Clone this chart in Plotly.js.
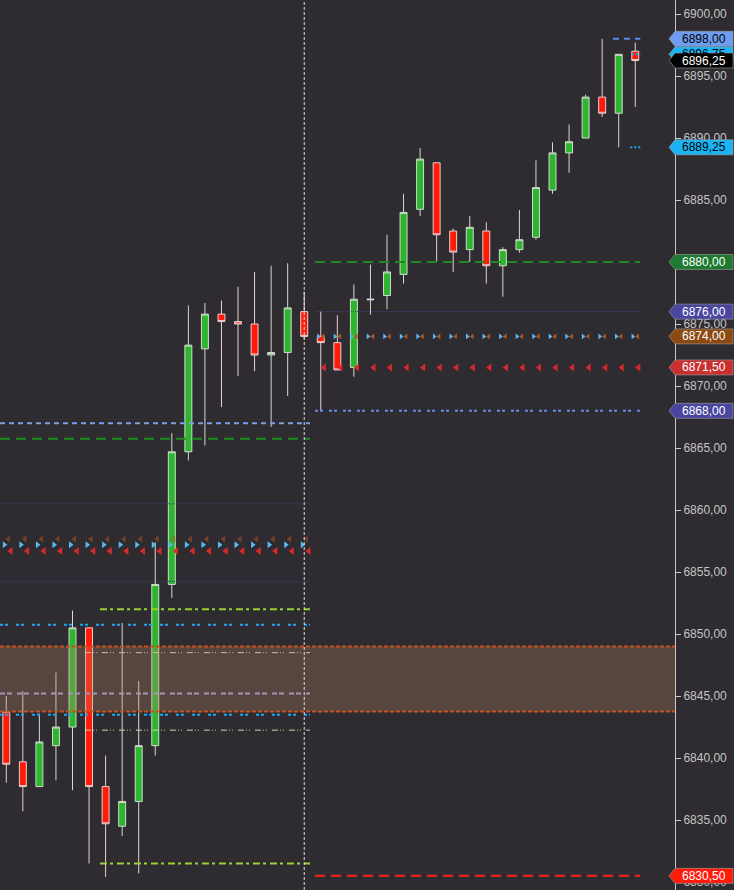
<!DOCTYPE html>
<html>
<head>
<meta charset="utf-8">
<script src="https://cdn.plot.ly/plotly-3.0.1.min.js"></script>
<style>html,body{margin:0;padding:0;background:#2e2b31;}#chart{width:734px;height:890px;}</style>
</head>
<body>
<div id="chart"></div>
<script>
// ---------------- DATA ----------------
const candleIndex = [0,1,2,3,4,5,6,7,8,9,10,11,12,13,14,15,16,17,18,19,20,21,22,23,24,25,26,27,28,29,30,31,32,33,34,35,36,37,38];
const openVals  = [6843.7,6839.7,6837.7,6841.0,6842.5,6850.5,6837.7,6834.5,6836.5,6841.0,6854.0,6864.7,6873.0,6875.8,6875.2,6875.0,6872.5,6872.7,6876.0,6874.0,6873.5,6871.5,6876.95,6877.3,6879.0,6884.25,6888.0,6882.5,6881.0,6882.5,6879.7,6881.0,6882.0,6885.8,6888.8,6890.0,6893.3,6892.0,6897.0];
const highVals  = [6845.0,6845.4,6843.6,6846.9,6851.9,6850.5,6840.2,6850.9,6846.2,6857.4,6866.2,6876.5,6876.7,6876.9,6878.0,6879.2,6879.7,6879.9,6877.6,6876.0,6875.7,6878.2,6879.8,6882.2,6885.5,6889.2,6888.0,6882.7,6883.7,6883.2,6881.2,6884.2,6888.2,6889.65,6891.1,6893.5,6898.0,6896.75,6897.7];
const lowVals   = [6838.0,6835.7,6837.7,6838.2,6837.4,6831.5,6830.4,6833.7,6830.7,6840.2,6852.9,6864.0,6865.2,6868.3,6870.8,6871.2,6866.7,6869.2,6873.8,6868.0,6871.3,6870.75,6875.75,6876.2,6878.25,6883.7,6880.0,6879.2,6880.0,6878.25,6877.2,6880.75,6881.8,6885.5,6887.2,6890.0,6891.7,6889.25,6892.5];
const closeVals = [6839.5,6837.7,6841.3,6842.5,6850.5,6837.7,6834.7,6836.5,6841.0,6854.0,6864.7,6873.3,6875.8,6875.2,6875.0,6872.5,6872.7,6876.3,6874.0,6873.5,6871.3,6877.0,6877.0,6879.2,6884.0,6888.3,6882.2,6880.8,6882.8,6879.7,6881.0,6881.8,6886.0,6888.8,6889.7,6893.3,6892.0,6896.75,6896.25];

// horizontal level segments: price, start index, end index
const lineLevels = [6867.0, 6865.75, 6860.5, 6854.25, 6852.0, 6831.5, 6850.75, 6843.5, 6845.2, 6848.5, 6842.25,
                    6880.0, 6876.0, 6868.0, 6830.5, 6898.0, 6889.25, 6896.75];
const lineStarts = [-0.38, -0.38, -0.38, -0.38, 5.66, 5.66, -0.38, -0.38, -0.38, 4.75, 4.75,
                    18.65, 18.65, 18.65, 18.65, 36.65, 37.7, 37.8];
const lineEnds   = [18.35, 18.35, 18.35, 18.35, 18.35, 18.35, 18.35, 18.35, 18.35, 18.35, 18.35,
                    38.3, 38.3, 38.3, 38.3, 38.3, 38.3, 38.3];

// zone
const zoneLow = 6843.75, zoneHigh = 6849.0;

// marker rows: price, first candle index, last candle index
const markerLevels = [6857.66, 6857.2, 6856.7, 6874.0, 6874.0, 6871.5];
const markerFirst  = [0, 0, 0, 19, 19, 19];
const markerLast   = [18, 18, 18, 38, 38, 38];

// vertical marker line (candle index)
const sessionBreak = 18;

// right-side price tags
const tagValues = [6898.00, 6896.75, 6896.25, 6889.25, 6880.00, 6876.00, 6874.00, 6871.50, 6868.00, 6830.50];

// ---------------- STYLE ----------------
const BG = '#2e2b31';
const PLOT_W = 675, W = 734, H = 890;
const xRange = [-0.38, 40.4];
const yRange = [6829.36, 6901.13];

const lineStyles = [
  {c:'#7c9ee8', w:2, d:'5px,4px'},
  {c:'#1f8a22', w:2, d:'10px,6px'},
  {c:'#403d72', w:1, d:'1px,1px'},
  {c:'#403d72', w:1, d:'1px,1px'},
  {c:'#9ad232', w:2, d:'7px,3px,3px,4px'},
  {c:'#9ad232', w:2, d:'7px,3px,3px,4px'},
  {c:'#1ea6f2', w:2, d:'3px,2px,3px,8px'},
  {c:'#1ea6f2', w:2, d:'3px,2px,3px,8px'},
  {c:'#9aa0d8', w:2, d:'5px,2px,5px,5px'},
  {c:'#d8dcc8', w:1, d:'6px,2px,1px,2px,1px,5px'},
  {c:'#b8e0a8', w:1, d:'6px,2px,1px,2px,1px,5px'},
  {c:'#1f8a22', w:2, d:'10px,6px'},
  {c:'#45427a', w:1, d:'1px,1px'},
  {c:'#6a8ae8', w:2, d:'3px,2px,3px,6px'},
  {c:'#ff2010', w:2, d:'10px,6px'},
  {c:'#5a8ae8', w:2, d:'6px,5px'},
  {c:'#1ea6f2', w:2, d:'2px,2px'},
  {c:'#1ea6f2', w:2, d:'2px,2px'}
];
const markerStyles = [
  {sym:'triangle-left',  c:'rgba(170,85,30,0.55)', s:6, off:0.12},
  {sym:'triangle-right', c:'#5ab8f5', s:6, off:-0.12},
  {sym:'triangle-left',  c:'#d42a2a', s:7, off:0.27},
  {sym:'triangle-right', c:'#5ab8f5', s:5, off:-0.15},
  {sym:'triangle-left',  c:'#b0581a', s:5, off:0.15},
  {sym:'triangle-left',  c:'#d42a2a', s:7, off:0.2}
];
const tagStyles = [
  {bg:'#6e9cf0', fg:'#000000'},
  {bg:'#1ab4f5', fg:'#000000'},
  {bg:'#000000', fg:'#ffffff'},
  {bg:'#1ab4f5', fg:'#000000'},
  {bg:'#1e7a30', fg:'#ffffff'},
  {bg:'#4a46a0', fg:'#ffffff'},
  {bg:'#8b4a12', fg:'#ffffff'},
  {bg:'#c83030', fg:'#ffffff'},
  {bg:'#4a46a0', fg:'#ffffff'},
  {bg:'#ff1a0a', fg:'#ffffff'}
];

const py = v => (v - yRange[0]) / (yRange[1] - yRange[0]);
const px = v => (v - xRange[0]) / (xRange[1] - xRange[0]);
const fmt = v => v.toFixed(2).replace('.', ',');

const traces = [];
traces.push({
  type:'candlestick', x:candleIndex, open:openVals, high:highVals, low:lowVals, close:closeVals,
  increasing:{fillcolor:'#2db52d', line:{color:'#d0dcd0', width:1}},
  decreasing:{fillcolor:'#ff1a0a', line:{color:'#e8d0d0', width:1}},
  whiskerwidth:0, hoverinfo:'skip', showlegend:false
});
lineLevels.forEach((v,k) => {
  const st = lineStyles[k];
  traces.push({type:'scatter', mode:'lines', x:[lineStarts[k], lineEnds[k]], y:[v, v],
    line:{color:st.c, width:st.w, dash:st.d}, hoverinfo:'skip', showlegend:false, cliponaxis:true});
});
markerLevels.forEach((v,k) => {
  const st = markerStyles[k];
  const xs = [], ys = [];
  for (let i = markerFirst[k]; i <= markerLast[k]; i++) { xs.push(i + st.off); ys.push(v); }
  traces.push({type:'scatter', mode:'markers', x:xs, y:ys,
    marker:{symbol:st.sym, color:st.c, size:st.s, line:{width:0}}, hoverinfo:'skip', showlegend:false});
});

const shapes = [];
// zone
shapes.push({type:'rect', xref:'paper', yref:'paper', x0:0, x1:1, y0:py(zoneLow), y1:py(zoneHigh),
  fillcolor:'rgba(183,133,99,0.30)', line:{width:0}, layer:'above'});
[zoneLow, zoneHigh].forEach(v => shapes.push({type:'line', xref:'paper', yref:'paper', x0:0, x1:1, y0:py(v), y1:py(v),
  line:{color:'#c4521e', width:2, dash:'4px,2px'}, layer:'above'}));
// session break
shapes.push({type:'line', xref:'paper', yref:'paper', x0:px(sessionBreak), x1:px(sessionBreak), y0:0, y1:1,
  line:{color:'#e0e0e0', width:1, dash:'3px,2px'}, layer:'above'});

const annotations = [];
const tipX = 669 / PLOT_W, boxL = 675 / PLOT_W, boxR = 733 / PLOT_W, hh = 7.5 / H;
tagValues.forEach((v,k) => {
  const st = tagStyles[k];
  const yc = py(v);
  shapes.push({type:'path', xref:'paper', yref:'paper',
    path:`M ${tipX},${yc} L ${boxL},${yc+hh} L ${boxR},${yc+hh} L ${boxR},${yc-hh} L ${boxL},${yc-hh} Z`,
    fillcolor:st.bg, line:{color:'#a0a0a0', width:0.6}, layer:'above'});
  annotations.push({xref:'paper', yref:'paper', x:(704/PLOT_W), y:yc, xanchor:'center', yanchor:'middle',
    text:fmt(v), showarrow:false, font:{family:'Liberation Sans, Arial, sans-serif', size:12, color:st.fg}});
});

const layout = {
  width:W, height:H, margin:{l:0, r:W-PLOT_W, t:0, b:0},
  paper_bgcolor:BG, plot_bgcolor:BG, separators:',.', showlegend:false,
  boxgap:0.4,
  xaxis:{range:xRange, showgrid:false, zeroline:false, showticklabels:false, ticks:'', showline:false,
         rangeslider:{visible:false}, fixedrange:true},
  yaxis:{range:yRange, side:'right', showgrid:false, zeroline:false, dtick:5, tick0:6900,
         tickformat:'.2f', ticks:'outside', ticklen:5, tickcolor:'#c8c8c8', showline:true,
         linecolor:'#c8c8c8', linewidth:1,
         tickfont:{family:'Liberation Sans, Arial, sans-serif', size:12, color:'#c4c4c4'}},
  shapes:shapes, annotations:annotations, hovermode:false
};
Plotly.newPlot('chart', traces, layout, {displayModeBar:false, staticPlot:true});
</script>
</body>
</html>
